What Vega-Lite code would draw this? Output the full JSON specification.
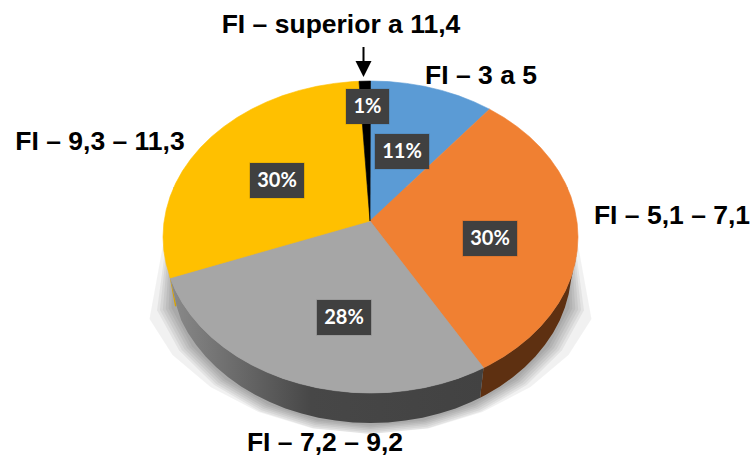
{
  "$schema": "https://vega.github.io/schema/vega-lite/v6.json",
  "width": 750, "height": 456,
  "autosize": {"type": "fit", "contains": "padding"},
  "padding": 0,
  "background": "white",
  "config": {"view": {"stroke": null}},
  "projection": {"type": "identity", "reflectY": true, "scale": 1, "translate": [370.5, 237]},
  "datasets": {
    "slices": [
      {"type": "Feature", "properties": {"name": "FI – 3 a 5", "share": 0.11, "boxX": 31.5, "boxY": 85.5, "titleX": 110.5, "titleY": 161},
       "geometry": {"type": "Polygon", "coordinates": [[[-0.5,16],[0,156],[18.1,155.4],[36,153.6],[53.7,150.7],[71,146.6],[87.7,141.4],[103.8,135.1],[119,127.8],[-0.5,16]]]}},
      {"type": "Feature", "properties": {"name": "FI – 5,1 – 7,1", "share": 0.30, "boxX": 119.5, "boxY": -1.5, "titleX": 301.5, "titleY": 21},
       "geometry": {"type": "Polygon", "coordinates": [[[-0.5,16],[119,127.8],[133.4,119.5],[146.7,110.3],[159,100.3],[170,89.5],[179.7,78],[188.1,65.9],[195,53.4],[200.4,40.4],[204.3,27.1],[206.7,13.6],[207.5,0],[206.7,-13.6],[204.3,-27.1],[200.4,-40.4],[195,-53.4],[188.1,-65.9],[179.7,-78],[170,-89.5],[159,-100.3],[146.7,-110.3],[133.4,-119.5],[119,-127.8],[113,-130.8],[-0.5,16]]]}},
      {"type": "Feature", "properties": {"name": "FI – 7,2 – 9,2", "share": 0.28, "boxX": -26.5, "boxY": -80.5, "titleX": -45.5, "titleY": -206},
       "geometry": {"type": "Polygon", "coordinates": [[[-0.5,16],[113,-130.8],[103.8,-135.1],[87.7,-141.4],[71,-146.6],[53.7,-150.7],[36,-153.6],[18.1,-155.4],[0,-156],[-18.1,-155.4],[-36,-153.6],[-53.7,-150.7],[-71,-146.6],[-87.7,-141.4],[-103.8,-135.1],[-119,-127.8],[-133.4,-119.5],[-146.7,-110.3],[-159,-100.3],[-170,-89.5],[-179.7,-78],[-188.1,-65.9],[-195,-53.4],[-200.2,-40.9],[-0.5,16]]]}},
      {"type": "Feature", "properties": {"name": "FI – 9,3 – 11,3", "share": 0.30, "boxX": -93.5, "boxY": 56.5, "titleX": -270.5, "titleY": 95},
       "geometry": {"type": "Polygon", "coordinates": [[[-0.5,16],[-200.2,-40.9],[-204.3,-27.1],[-206.7,-13.6],[-207.5,0],[-206.7,13.6],[-204.3,27.1],[-200.4,40.4],[-195,53.4],[-188.1,65.9],[-179.7,78],[-170,89.5],[-159,100.3],[-146.7,110.3],[-133.4,119.5],[-119,127.8],[-103.8,135.1],[-87.7,141.4],[-71,146.6],[-53.7,150.7],[-36,153.6],[-18.1,155.4],[-11.5,155.7],[-0.5,16]]]}},
      {"type": "Feature", "properties": {"name": "FI – superior a 11,4", "share": 0.01, "boxX": -3, "boxY": 130.5, "titleX": -29.5, "titleY": 212},
       "geometry": {"type": "Polygon", "coordinates": [[[-0.5,16],[-11.5,155.7],[0,156],[-0.5,16]]]}}
    ]
  },
  "layer": [
    {
      "description": "Soft halo under the pie, built from nested translucent outlines",
      "data": {"values": [
        {"type": "Feature", "properties": {}, "geometry": {"type": "Polygon", "coordinates": [[[-197,50],[-221,-82],[-198,-118],[-160,-150],[-112,-175],[-58,-191.5],[0,-197],[58,-191.5],[112,-175],[160,-150],[198,-118],[221,-82],[197,50],[-197,50]]]}},
        {"type": "Feature", "properties": {}, "geometry": {"type": "Polygon", "coordinates": [[[-197,50],[-213.5,-73.3],[-191.4,-113.5],[-156.3,-148.1],[-110.5,-174.6],[-57.2,-191.3],[0,-197],[57.2,-191.3],[110.5,-174.6],[156.3,-148.1],[191.4,-113.5],[213.5,-73.3],[197,50],[-197,50]]]}},
        {"type": "Feature", "properties": {}, "geometry": {"type": "Polygon", "coordinates": [[[-197,50],[-210.6,-72.9],[-188.8,-112.7],[-154.2,-146.9],[-109,-173.2],[-56.5,-189.7],[0,-195.4],[56.5,-189.7],[109,-173.2],[154.2,-146.9],[188.8,-112.7],[210.6,-72.9],[197,50],[-197,50]]]}},
        {"type": "Feature", "properties": {}, "geometry": {"type": "Polygon", "coordinates": [[[-197,50],[-207.7,-72.4],[-186.2,-111.9],[-152,-145.7],[-107.5,-171.8],[-55.7,-188.1],[0,-193.7],[55.7,-188.1],[107.5,-171.8],[152,-145.7],[186.2,-111.9],[207.7,-72.4],[197,50],[-197,50]]]}},
        {"type": "Feature", "properties": {}, "geometry": {"type": "Polygon", "coordinates": [[[-197,50],[-204.8,-72],[-183.6,-111],[-149.9,-144.6],[-106,-170.4],[-54.9,-186.6],[0,-192],[54.9,-186.6],[106,-170.4],[149.9,-144.6],[183.6,-111],[204.8,-72],[197,50],[-197,50]]]}},
        {"type": "Feature", "properties": {}, "geometry": {"type": "Polygon", "coordinates": [[[-197,50],[-201.9,-71.5],[-181,-110.2],[-147.8,-143.4],[-104.5,-168.9],[-54.1,-185],[0,-190.4],[54.1,-185],[104.5,-168.9],[147.8,-143.4],[181,-110.2],[201.9,-71.5],[197,50],[-197,50]]]}},
        {"type": "Feature", "properties": {}, "geometry": {"type": "Polygon", "coordinates": [[[-197,50],[-199,-71.1],[-178.4,-109.4],[-145.7,-142.3],[-103,-167.5],[-53.4,-183.4],[0,-188.8],[53.4,-183.4],[103,-167.5],[145.7,-142.3],[178.4,-109.4],[199,-71.1],[197,50],[-197,50]]]}}
      ]},
      "mark": {"type": "geoshape", "fill": "black", "fillOpacity": 0.055, "stroke": null}
    },
    {
      "description": "Side wall of the orange slice",
      "data": {"values": [{"type": "Feature", "properties": {}, "geometry": {"type": "Polygon", "coordinates": [[[206.7,-13.6],[204.3,-27.1],[200.4,-40.4],[195,-53.4],[188.1,-65.9],[179.7,-78],[170,-89.5],[159,-100.3],[146.7,-110.3],[133.4,-119.5],[119,-127.8],[113,-130.8],[109.6,-160.8],[115.4,-157.8],[129.4,-149.5],[142.3,-140.3],[154.2,-130.3],[164.9,-119.5],[174.3,-108],[182.5,-95.9],[189.2,-83.4],[194.4,-70.4],[198.2,-57.1],[200.5,-43.6],[206.7,-13.6]]]}}]},
      "mark": {"type": "geoshape", "fill": "#5e3011", "stroke": null}
    },
    {
      "description": "Sliver of the yellow slice's wall",
      "data": {"values": [{"type": "Feature", "properties": {}, "geometry": {"type": "Polygon", "coordinates": [[[-201.5,-36],[-195.5,-69.5],[-194,-69],[-200.2,-40.9],[-201.5,-36]]]}}]},
      "mark": {"type": "geoshape", "fill": "#d9a300", "stroke": null}
    },
    {
      "description": "Side wall of the grey slice",
      "data": {"values": [{"type": "Feature", "properties": {}, "geometry": {"type": "Polygon", "coordinates": [[[113,-130.8],[103.8,-135.1],[87.7,-141.4],[71,-146.6],[53.7,-150.7],[36,-153.6],[18.1,-155.4],[0,-156],[-18.1,-155.4],[-36,-153.6],[-53.7,-150.7],[-71,-146.6],[-87.7,-141.4],[-103.8,-135.1],[-119,-127.8],[-133.4,-119.5],[-146.7,-110.3],[-159,-100.3],[-170,-89.5],[-179.7,-78],[-188.1,-65.9],[-195,-53.4],[-200.2,-40.9],[-194,-69],[-189.2,-83.4],[-182.5,-95.9],[-174.3,-108],[-164.9,-119.5],[-154.2,-130.3],[-142.3,-140.3],[-129.4,-149.5],[-115.4,-157.8],[-100.7,-165.1],[-85.1,-171.4],[-68.9,-176.6],[-52.1,-180.7],[-34.9,-183.6],[-17.6,-185.4],[0,-186],[17.6,-185.4],[34.9,-183.6],[52.1,-180.7],[68.9,-176.6],[85.1,-171.4],[100.7,-165.1],[109.6,-160.8],[113,-130.8]]]}}]},
      "mark": {"type": "geoshape", "stroke": null, "fill": {"gradient": "linear", "x1": 0, "x2": 1, "y1": 0, "y2": 0, "stops": [{"offset": 0, "color": "#8a8a8a"}, {"offset": 0.45, "color": "#474747"}, {"offset": 1, "color": "#424242"}]}}
    },
    {
      "description": "Top face of each slice",
      "data": {"name": "slices"},
      "mark": {"type": "geoshape", "strokeWidth": 0.6},
      "encoding": {
        "fill": {"field": "properties.name", "type": "nominal", "legend": null,
          "scale": {"domain": ["FI – 3 a 5", "FI – 5,1 – 7,1", "FI – 7,2 – 9,2", "FI – 9,3 – 11,3", "FI – superior a 11,4"], "range": ["#5b9bd5", "#f08032", "#a6a6a6", "#ffc000", "#000000"]}},
        "stroke": {"field": "properties.name", "type": "nominal", "legend": null,
          "scale": {"domain": ["FI – 3 a 5", "FI – 5,1 – 7,1", "FI – 7,2 – 9,2", "FI – 9,3 – 11,3", "FI – superior a 11,4"], "range": ["#5b9bd5", "#f08032", "#a6a6a6", "#ffc000", "#000000"]}}
      }
    },
    {
      "description": "Arrow pointing at the thinnest slice",
      "data": {"values": [
        {"type": "Feature", "properties": {}, "geometry": {"type": "Polygon", "coordinates": [[[-8,190],[-6,190],[-6,176],[1,176],[-7,160],[-15,176],[-8,176],[-8,190]]]}}
      ]},
      "mark": {"type": "geoshape", "fill": "black", "stroke": null}
    },
    {
      "description": "Drop shadow of the value boxes",
      "data": {"name": "slices"},
      "mark": {"type": "point", "filled": true, "fill": "black", "opacity": 0.14, "size": 3100, "xOffset": 3, "yOffset": 3, "strokeWidth": 0},
      "encoding": {
        "longitude": {"field": "properties.boxX", "type": "quantitative"},
        "latitude": {"field": "properties.boxY", "type": "quantitative"},
        "shape": {"condition": {"test": "datum.properties.share < 0.05", "value": "M-.796,-.648H.796V.648H-.796Z"}, "value": "M-1,-.648H1V.648H-1Z"}
      }
    },
    {
      "description": "Tighter, darker part of the drop shadow",
      "data": {"name": "slices"},
      "mark": {"type": "point", "filled": true, "fill": "black", "opacity": 0.22, "size": 2916, "xOffset": 3, "yOffset": 3, "strokeWidth": 0},
      "encoding": {
        "longitude": {"field": "properties.boxX", "type": "quantitative"},
        "latitude": {"field": "properties.boxY", "type": "quantitative"},
        "shape": {"condition": {"test": "datum.properties.share < 0.05", "value": "M-.796,-.648H.796V.648H-.796Z"}, "value": "M-1,-.648H1V.648H-1Z"}
      }
    },
    {
      "description": "Value boxes",
      "data": {"name": "slices"},
      "mark": {"type": "point", "filled": true, "fill": "#404040", "opacity": 1, "size": 2916, "strokeWidth": 0},
      "encoding": {
        "longitude": {"field": "properties.boxX", "type": "quantitative"},
        "latitude": {"field": "properties.boxY", "type": "quantitative"},
        "shape": {"condition": {"test": "datum.properties.share < 0.05", "value": "M-.796,-.648H.796V.648H-.796Z"}, "value": "M-1,-.648H1V.648H-1Z"}
      }
    },
    {
      "description": "Percentages inside the boxes",
      "data": {"name": "slices"},
      "mark": {"type": "text", "font": "Lato", "fontWeight": "bold", "fontSize": 20, "fill": "white", "align": "center", "baseline": "middle"},
      "encoding": {
        "longitude": {"field": "properties.boxX", "type": "quantitative"},
        "latitude": {"field": "properties.boxY", "type": "quantitative"},
        "text": {"field": "properties.share", "type": "quantitative", "format": ".0%"}
      }
    },
    {
      "description": "Slice names around the pie",
      "data": {"name": "slices"},
      "mark": {"type": "text", "font": "Liberation Sans", "fontWeight": "bold", "fontSize": 26.5, "fill": "black", "align": "center", "baseline": "middle"},
      "encoding": {
        "longitude": {"field": "properties.titleX", "type": "quantitative"},
        "latitude": {"field": "properties.titleY", "type": "quantitative"},
        "text": {"field": "properties.name", "type": "nominal"}
      }
    }
  ]
}
